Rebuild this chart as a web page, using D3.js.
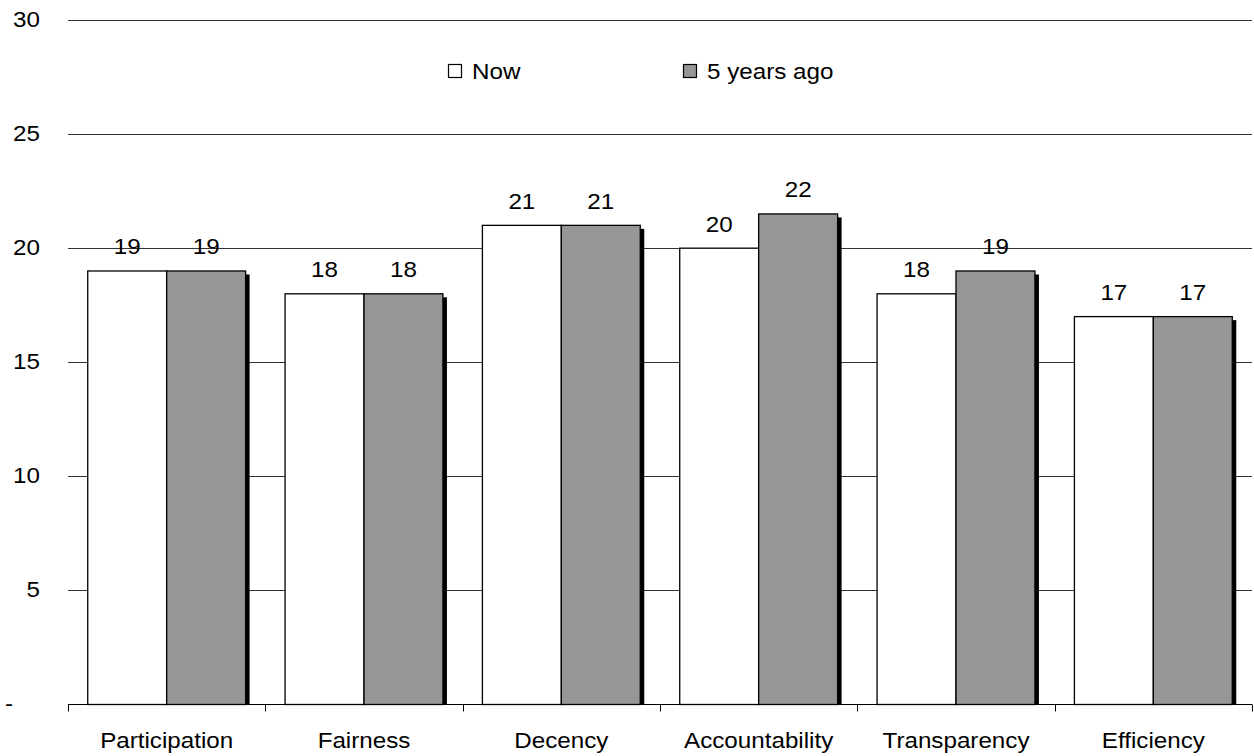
<!DOCTYPE html>
<html>
<head>
<meta charset="utf-8">
<script src="https://cdn.jsdelivr.net/npm/d3@7"></script>
<style>
  html, body { margin: 0; padding: 0; background: #fff; }
  svg { display: block; }
  text { font-family: "Liberation Sans", Arial, sans-serif; fill: #000; }
</style>
</head>
<body>
<svg id="chart" width="1254" height="756"></svg>
<script>
// Governance indicators, score now vs. five years ago
const categories = ["Participation", "Fairness", "Decency", "Accountability", "Transparency", "Efficiency"];
const seriesNames = ["Now", "5 years ago"];
const nowValues = [19, 18, 21, 20, 18, 17];
const pastValues = [19, 18, 21, 21.5, 19, 17];
const yTicks = [0, 5, 10, 15, 20, 25, 30];

const W = 1254, H = 756;
const plot = { left: 68, right: 1252, top: 20, bottom: 704.5 };
const fontSize = 22;
const stretch = 1.1;           // slightly wide lettering
const fills = ["#ffffff", "#969696"];

const svg = d3.select("#chart");

const x0 = d3.scaleBand()
  .domain(categories)
  .range([plot.left, plot.right])
  .paddingInner(0.2)
  .paddingOuter(0.1);

const x1 = d3.scaleBand()
  .domain(seriesNames)
  .range([0, x0.bandwidth()])
  .padding(0);

const y = d3.scaleLinear()
  .domain([0, 30])
  .range([plot.bottom, plot.top]);

const rows = categories.map((c, i) => ({
  cat: c,
  vals: [
    { key: seriesNames[0], v: nowValues[i], fill: fills[0] },
    { key: seriesNames[1], v: pastValues[i], fill: fills[1] }
  ]
}));

// helper: text positioned via transform so it can be widened horizontally
function wideText(sel, xPos, yPos) {
  sel.attr("transform", (d, i) => `translate(${xPos(d, i)},${yPos(d, i)}) scale(${stretch},1)`)
     .style("font-size", fontSize + "px");
  return sel;
}

// horizontal gridlines
svg.append("g")
  .selectAll("line")
  .data(yTicks.filter(t => t > 0))
  .join("line")
  .attr("x1", plot.left)
  .attr("x2", plot.right)
  .attr("y1", d => Math.round(y(d)) + 0.5)
  .attr("y2", d => Math.round(y(d)) + 0.5)
  .attr("stroke", "#333")
  .attr("stroke-width", 1);

// y tick labels ("-" for zero, accounting style)
svg.append("g")
  .selectAll("text")
  .data(yTicks)
  .join("text")
  .attr("text-anchor", d => d === 0 ? "start" : "end")
  .text(d => d === 0 ? "-" : d3.format("d")(d))
  .call(wideText, d => d === 0 ? 5 : 40, d => y(d) + 6.5);

const groups = svg.append("g")
  .selectAll("g")
  .data(rows)
  .join("g")
  .attr("transform", d => `translate(${x0(d.cat)},0)`);

// drop shadows behind the bars
const shX = 4, shY = 3.5;
groups.selectAll("rect.shadow")
  .data(d => d.vals)
  .join("rect")
  .attr("class", "shadow")
  .attr("x", d => x1(d.key) + shX)
  .attr("y", d => y(d.v) + shY)
  .attr("width", x1.bandwidth())
  .attr("height", d => y(0) - y(d.v) - shY)
  .attr("fill", "#000");

// bars
groups.selectAll("rect.bar")
  .data(d => d.vals)
  .join("rect")
  .attr("class", "bar")
  .attr("x", d => x1(d.key))
  .attr("y", d => y(d.v))
  .attr("width", x1.bandwidth())
  .attr("height", d => y(0) - y(d.v))
  .attr("fill", d => d.fill)
  .attr("stroke", "#000")
  .attr("stroke-width", 1.3);

// value labels
groups.selectAll("text.val")
  .data(d => d.vals)
  .join("text")
  .attr("class", "val")
  .attr("text-anchor", "middle")
  .text(d => d3.format(".0f")(d.v))
  .call(wideText, d => x1(d.key) + x1.bandwidth() / 2, d => y(d.v) - 16.5);

// x axis
const xAxis = svg.append("g")
  .attr("transform", `translate(0,${plot.bottom})`);
xAxis.append("line")
  .attr("x1", plot.left).attr("x2", plot.right)
  .attr("y1", 0).attr("y2", 0)
  .attr("stroke", "#000").attr("stroke-width", 1.2);
const boundaries = categories.map(c => x0(c) - x0.step() * x0.paddingInner() / 2);
boundaries.push(plot.right);
boundaries[0] = plot.left;
xAxis.selectAll("line.tick")
  .data(boundaries)
  .join("line")
  .attr("class", "tick")
  .attr("x1", d => Math.round(d) + 0.5).attr("x2", d => Math.round(d) + 0.5)
  .attr("y1", 0).attr("y2", 7)
  .attr("stroke", "#000").attr("stroke-width", 1);
xAxis.selectAll("text")
  .data(categories)
  .join("text")
  .attr("text-anchor", "middle")
  .text(d => d)
  .call(wideText, d => x0(d) + x0.bandwidth() / 2, () => 43);

// legend
const legendPos = [448, 683];
const legend = svg.append("g")
  .selectAll("g")
  .data(seriesNames)
  .join("g")
  .attr("transform", (d, i) => `translate(${legendPos[i]},64)`);
legend.append("rect")
  .attr("x", 0.5).attr("y", 0.5)
  .attr("width", 13).attr("height", 13)
  .attr("fill", (d, i) => fills[i])
  .attr("stroke", "#000").attr("stroke-width", 1.2);
legend.append("text")
  .text(d => d)
  .call(wideText, () => 24, () => 15);
</script>
</body>
</html>
